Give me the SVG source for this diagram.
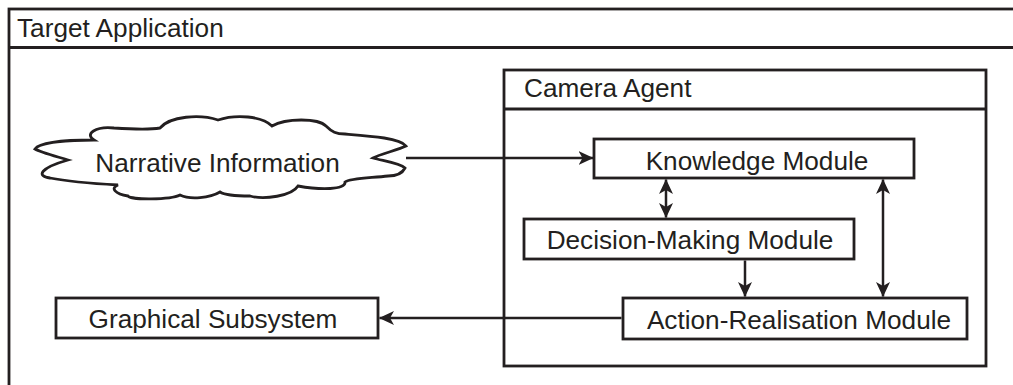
<svg xmlns="http://www.w3.org/2000/svg" width="1013" height="385" viewBox="0 0 1013 385">
<defs>
<style>
.box{fill:#fff;stroke:#231f20;stroke-width:2.8}
.frame{fill:none;stroke:#231f20;stroke-width:2.8}
.t{font-family:"Liberation Sans",Arial,sans-serif;font-size:26.2px;fill:#231f20}
.c{text-anchor:middle}
.conn{fill:none;stroke:#231f20;stroke-width:2.5}
</style>
<marker id="ah" viewBox="0 0 15 14" refX="14.5" refY="7" markerWidth="15" markerHeight="14" markerUnits="userSpaceOnUse" orient="auto-start-reverse">
<path d="M0,0 L15,7 L0,14 L4,7 Z" fill="#231f20"/>
</marker>
</defs>
<rect width="1013" height="385" fill="#fff"/>
<g id="target-application">
<rect class="frame" x="9" y="9" width="1030" height="400"/>
<line class="frame" x1="9" y1="47.5" x2="1013" y2="47.5"/>
<text class="t" x="17" y="37">Target Application</text>
</g>
<g id="camera-agent">
<rect class="frame" x="504" y="70" width="482" height="296"/>
<line class="frame" x1="504" y1="109" x2="986" y2="109"/>
<text class="t" x="524" y="97">Camera Agent</text>
</g>
<g id="narrative-information">
<path class="box" d="M 94,140 C 84,134 96,126 114,128 C 130,129 148,130 160,128 C 170,116 200,114 218,120 C 236,114 262,116 272,126 C 286,118 318,118 326,126 C 332,132 336,134 345,134 C 370,136 400,138 406,146 C 398,150 380,154 373,158 C 384,161 400,163 405,168 C 402,174 396,176 388,176 C 370,178 350,178 345,182 C 346,190 320,190 298,186 C 292,196 264,200 250,196 C 240,196 226,196 220,192 C 210,198 190,200 180,195 C 170,200 130,200 128,196 C 115,194 110,188 118,185 C 100,184 70,182 50,178 C 36,176 40,168 68,160 C 55,156 40,152 35,149 C 40,142 70,140 94,140 Z"/>
<text class="t c" x="217.5" y="172">Narrative Information</text>
</g>
<g id="knowledge-module">
<rect class="box" x="594" y="139" width="320" height="39"/>
<text class="t c" x="757" y="169.5">Knowledge Module</text>
</g>
<g id="decision-making-module">
<rect class="box" x="524" y="219" width="330" height="40"/>
<text class="t c" x="690" y="249">Decision-Making Module</text>
</g>
<g id="action-realisation-module">
<rect class="box" x="623" y="298" width="344" height="41"/>
<text class="t c" x="799" y="329">Action-Realisation Module</text>
</g>
<g id="graphical-subsystem">
<rect class="box" x="56" y="298" width="322" height="40"/>
<text class="t c" x="213" y="327.5">Graphical Subsystem</text>
</g>
<g id="connectors">
<line class="conn" x1="406" y1="158" x2="593" y2="158" marker-end="url(#ah)"/>
<line class="conn" x1="666" y1="179.5" x2="666" y2="217.5" marker-start="url(#ah)" marker-end="url(#ah)"/>
<line class="conn" x1="883" y1="179.5" x2="883" y2="296.5" marker-start="url(#ah)" marker-end="url(#ah)"/>
<line class="conn" x1="745" y1="260.5" x2="745" y2="296.5" marker-end="url(#ah)"/>
<line class="conn" x1="621.5" y1="318" x2="379.5" y2="318" marker-end="url(#ah)"/>
</g>
</svg>
